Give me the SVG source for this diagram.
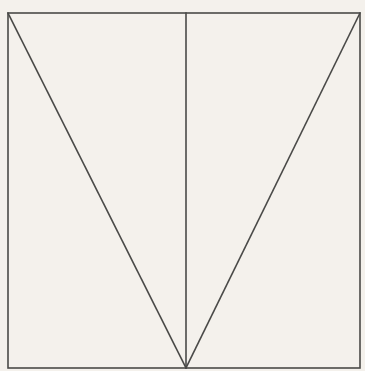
<svg xmlns="http://www.w3.org/2000/svg" width="365" height="371" viewBox="0 0 365 371">
<style>.ln{stroke:#4a4a48;stroke-width:1.6;fill:none;stroke-linecap:square}</style>
<rect width="365" height="371" fill="#f4f1ec"/>
<g id="frame"><rect class="ln" x="8" y="13" width="352" height="355"/></g>
<g id="connectors">
<line class="ln" x1="8" y1="13" x2="186" y2="368"/>
<line class="ln" x1="360" y1="13" x2="186" y2="368"/>
<line class="ln" x1="186" y1="13" x2="186" y2="368"/>
</g>
</svg>
